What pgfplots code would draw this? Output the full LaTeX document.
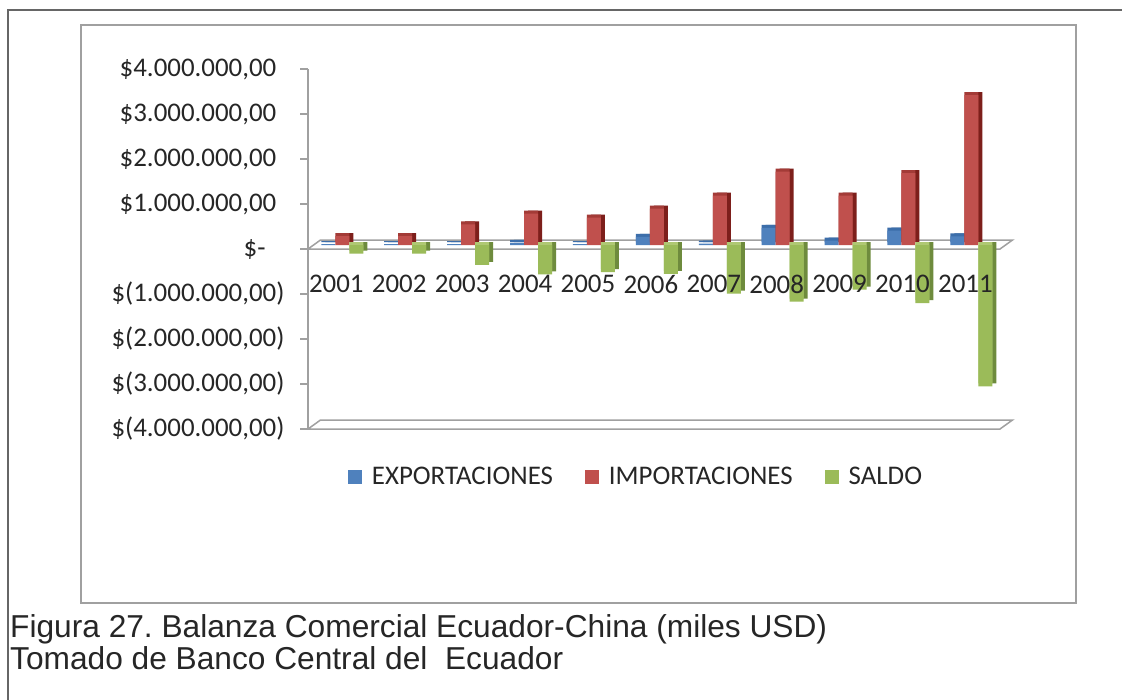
\documentclass[border=0pt]{standalone}
\usepackage{fontspec}
\usepackage{pgfplots}
\usepackage{pgfplotstable}
\pgfplotsset{compat=1.18}
\frenchspacing
\newfontfamily\chartfont{Carlito}
\newfontfamily\capfont{Liberation Sans}
\definecolor{cBlue}{HTML}{4F81BD}
\definecolor{cBlueTop}{HTML}{3C6EAA}
\definecolor{cBlueSide}{HTML}{2A5A94}
\definecolor{cRed}{HTML}{C0504D}
\definecolor{cRedTop}{HTML}{A33B37}
\definecolor{cRedSide}{HTML}{7D1F1B}
\definecolor{cGreen}{HTML}{9BBB59}
\definecolor{cGreenTop}{HTML}{AFC873}
\definecolor{cGreenSide}{HTML}{6E8B3D}
\definecolor{frame}{HTML}{A0A0A0}
\pgfplotstableread{
x exp imp sal
0 20000 200000 -190000
1 20000 200000 -190000
2 20000 460000 -440000
3 50000 700000 -650000
4 20000 610000 -600000
5 180000 810000 -640000
6 30000 1100000 -1080000
7 380000 1630000 -1260000
8 100000 1100000 -990000
9 320000 1600000 -1290000
10 190000 3330000 -3140000
}\data
\begin{document}
\begin{tikzpicture}
\useasboundingbox (0,0) rectangle (1122bp,-700bp);
\fill[white] (0,0) rectangle (1122bp,-700bp);
\draw[color=black!60, line width=1.5bp] (8bp,-700bp) -- (8bp,-10bp) -- (1122bp,-10bp);
\draw[color=frame, line width=1.5bp] (81bp,-25bp) rectangle (1076bp,-603bp);
\begin{axis}[
  at={(308bp,-429bp)}, anchor=south west,
  scale only axis, width=692bp, height=360bp,
  xmin=-0.45, xmax=10.55, ymin=-4000000, ymax=4000000,
  clip=false, axis on top,
  axis line style={draw=none},
  scaled y ticks=false,
  xtick={0,1,...,10},
  xticklabels={2001,2002,2003,2004,2005,2006,2007,2008,2009,2010,2011},
  xtick style={draw=none},
  xticklabel style={yshift=157bp},
  ytick={-4000000,-3000000,-2000000,-1000000,0,1000000,2000000,3000000,4000000},
  yticklabels={{\$(4.000.000,00)},{\$(3.000.000,00)},{\$(2.000.000,00)},{\$(1.000.000,00)},{\$-\kern19bp},{\$1.000.000,00\hphantom{)}},{\$2.000.000,00\hphantom{)}},{\$3.000.000,00\hphantom{)}},{\$4.000.000,00\hphantom{)}}},
  yticklabel style={xshift=-12bp},
  ytick pos=left, ytick align=outside, major tick length=8bp,
  ytick style={draw=frame, line width=1.5bp},
  tick label style={font=\chartfont\fontsize{27}{31}\selectfont, text=black!85},
  legend image code/.code={\fill[#1] (0bp,-7bp) rectangle (14bp,7bp);},
  legend columns=3,
  legend style={at={(0.474,-0.133)}, anchor=center, draw=none, fill=none,
    font=\chartfont\fontsize{27}{31}\selectfont, text=black!85,
    /tikz/every odd column/.append style={column sep=8bp},
    /tikz/every even column/.append style={column sep=30bp}},
]
% 3D frame: floor, zero plane, y axis
\draw[color=frame, line width=1.5bp] (axis cs:-0.45,-4000000) -- (axis cs:10.55,-4000000)
  -- ([shift={(12.5bp,9bp)}]axis cs:10.55,-4000000) -- ([shift={(12.5bp,9bp)}]axis cs:-0.45,-4000000) -- cycle;
\draw[color=frame, line width=1.5bp] (axis cs:-0.45,0) -- ([shift={(12.5bp,9bp)}]axis cs:-0.45,0)
  -- ([shift={(12.5bp,9bp)}]axis cs:10.55,0) -- (axis cs:10.55,0) -- cycle;
\draw[color=frame, line width=1.5bp] (axis cs:-0.45,-4000000) -- (axis cs:-0.45,4000000);
% legend images
\addlegendimage{draw=none, fill=cBlue}\addlegendentry{EXPORTACIONES}
\addlegendimage{draw=none, fill=cRed}\addlegendentry{IMPORTACIONES}
\addlegendimage{draw=none, fill=cGreen}\addlegendentry{SALDO}
% EXPORTACIONES
\addplot[ybar, bar width=14bp, bar shift=-14bp, draw=none, fill=cBlueSide, xshift=10bp, yshift=7bp, forget plot] table[x=x,y=exp]{\data};
\addplot[ybar, bar width=14bp, bar shift=-14bp, draw=none, fill=cBlueTop, xshift=6bp, yshift=7bp, forget plot] table[x=x,y=exp]{\data};
\addplot[ybar, bar width=14bp, bar shift=-14bp, draw=none, fill=cBlue, xshift=6bp, yshift=4bp, forget plot] table[x=x,y=exp]{\data};
% IMPORTACIONES
\addplot[ybar, bar width=14bp, bar shift=0bp, draw=none, fill=cRedSide, xshift=10bp, yshift=7bp, forget plot] table[x=x,y=imp]{\data};
\addplot[ybar, bar width=14bp, bar shift=0bp, draw=none, fill=cRedTop, xshift=6bp, yshift=7bp, forget plot] table[x=x,y=imp]{\data};
\addplot[ybar, bar width=14bp, bar shift=0bp, draw=none, fill=cRed, xshift=6bp, yshift=4bp, forget plot] table[x=x,y=imp]{\data};
% SALDO
\addplot[ybar, bar width=14bp, bar shift=14bp, draw=none, fill=cGreenSide, xshift=10bp, yshift=7bp, forget plot] table[x=x,y=sal]{\data};
\addplot[ybar, bar width=14bp, bar shift=14bp, draw=none, fill=cGreenTop, xshift=6bp, yshift=7bp, forget plot] table[x=x,y=sal]{\data};
\addplot[ybar, bar width=14bp, bar shift=14bp, draw=none, fill=cGreen, xshift=6bp, yshift=4bp, forget plot] table[x=x,y=sal]{\data};
\end{axis}
\node[anchor=base west, inner sep=0pt, font=\capfont\fontsize{31.8}{36}\selectfont, text=black!85] at (10bp,-637bp) {Figura 27. Balanza Comercial Ecuador-China (miles USD)};
\node[anchor=base west, inner sep=0pt, font=\capfont\fontsize{31.8}{36}\selectfont, text=black!85] at (10bp,-669bp) {Tomado de Banco Central del\ \ Ecuador};
\end{tikzpicture}
\end{document}
